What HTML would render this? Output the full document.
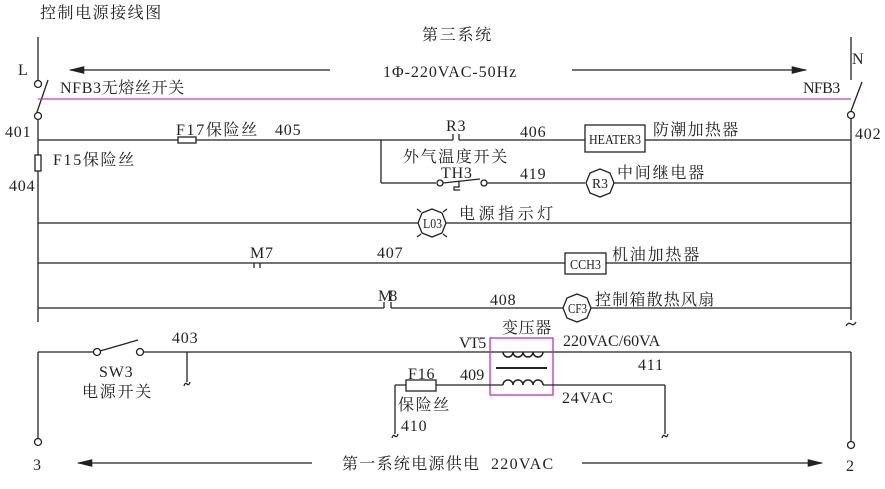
<!DOCTYPE html>
<html><head><meta charset="utf-8"><style>
html,body{margin:0;padding:0;background:#fff}
svg{display:block}
text{font-family:"Liberation Serif","Noto Serif CJK SC","Noto Sans CJK SC",serif;fill:#222;font-size:16px;letter-spacing:0.8px}
.s{font-size:14px;letter-spacing:0}
</style></head><body>
<svg width="885" height="489" viewBox="0 0 885 489" xmlns="http://www.w3.org/2000/svg">
<defs>
<marker id="ah" markerWidth="12" markerHeight="6" refX="11" refY="3" orient="auto"><path d="M0,0 L12,3 L0,6 Z" fill="#222"/></marker>
</defs>
<g stroke="#222" stroke-width="1.3" fill="none">
<line x1="38" y1="37" x2="38" y2="80"/>
<line x1="38" y1="120" x2="38" y2="322"/>
<circle cx="38" cy="84" r="3.5" fill="#fff"/>
<circle cx="38" cy="116" r="3.5" fill="#fff"/>
<line x1="37" y1="112" x2="48" y2="80"/>
<line x1="851" y1="37" x2="851" y2="80"/>
<line x1="851" y1="119" x2="851" y2="320"/>
<circle cx="851" cy="115" r="3.5" fill="#fff"/>
<line x1="851" y1="111" x2="862" y2="82"/>
<path d="M846,326 q2,-4 5,-2 q3,2 5,-2"/>
<line x1="330" y1="70" x2="70" y2="70" marker-end="url(#ah)"/>
<line x1="572" y1="70" x2="806" y2="70" marker-end="url(#ah)"/>
<line x1="38" y1="140" x2="178" y2="140"/>
<rect x="178" y="137" width="18" height="6"/>
<line x1="196" y1="140" x2="453" y2="140"/>
<line x1="453" y1="134" x2="453" y2="140"/>
<line x1="459" y1="134" x2="459" y2="140"/>
<line x1="459" y1="140" x2="585" y2="140"/>
<rect x="585" y="125" width="60" height="27"/>
<line x1="645" y1="140" x2="851" y2="140"/>
<rect x="35" y="155" width="6" height="16" fill="#fff"/>
<line x1="381" y1="140" x2="381" y2="183"/>
<line x1="381" y1="183" x2="436" y2="183"/>
<circle cx="440" cy="183" r="3" fill="#fff"/>
<circle cx="484" cy="183" r="3" fill="#fff"/>
<line x1="443" y1="183" x2="480" y2="179"/>
<path d="M459,181 v6 h-5 v3 h6"/>
<line x1="487" y1="183" x2="585" y2="183"/>
<polygon points="600,169 610,173 614,183 610,193 600,197 590,193 586,183 590,173" fill="#fff"/>
<line x1="614" y1="183" x2="851" y2="183"/>
<line x1="38" y1="223" x2="418" y2="223"/>
<polygon points="432,209 442,213 446,223 442,233 432,237 422,233 418,223 422,213" fill="#fff"/>
<line x1="446" y1="223" x2="851" y2="223"/>
<line x1="417" y1="209" x2="421" y2="212"/><line x1="447" y1="209" x2="443" y2="212"/>
<line x1="417" y1="237" x2="421" y2="234"/><line x1="447" y1="237" x2="443" y2="234"/>
<line x1="38" y1="263" x2="565" y2="263"/>
<path d="M254,263 v5 M260,263 v5"/>
<rect x="565" y="253" width="41" height="21" fill="#fff"/>
<line x1="606" y1="263" x2="851" y2="263"/>
<line x1="38" y1="308" x2="384" y2="308"/>
<path d="M384,302 v6 M391,302 v6"/>
<line x1="391" y1="308" x2="563" y2="308"/>
<polygon points="577,294 587,298 591,308 587,318 577,322 567,318 563,308 567,298" fill="#fff"/>
<line x1="591" y1="308" x2="851" y2="308"/>
<line x1="38" y1="352" x2="38" y2="438"/>
<circle cx="38" cy="442" r="3.5" fill="#fff"/>
<line x1="38" y1="352" x2="93" y2="352"/>
<circle cx="97" cy="352" r="3.5" fill="#fff"/>
<circle cx="140" cy="352" r="3.5" fill="#fff"/>
<line x1="100" y1="351" x2="138" y2="340"/>
<line x1="144" y1="352" x2="851" y2="352"/>
<line x1="187" y1="352" x2="187" y2="382"/>
<path d="M184,386 q1,-4 3,-2 q2,2 3,-2"/>
<line x1="851" y1="352" x2="851" y2="441"/>
<circle cx="851" cy="445" r="3.5" fill="#fff"/>
<rect x="490" y="338" width="63" height="57" stroke="#c030c0"/>
<path d="M503,352 a5,5 0 0 0 10,0 a5,5 0 0 0 10,0 a5,5 0 0 0 10,0 a5,5 0 0 0 10,0" stroke-width="1.5"/>
<line x1="496" y1="368" x2="547" y2="368" stroke-width="2"/>
<path d="M503,385 a5,5 0 0 1 10,0 a5,5 0 0 1 10,0 a5,5 0 0 1 10,0 a5,5 0 0 1 10,0" stroke-width="1.5"/>
<line x1="395" y1="385" x2="503" y2="385"/>
<line x1="543" y1="385" x2="665" y2="385"/>
<rect x="406" y="380" width="30" height="11" fill="#fff"/>
<line x1="395" y1="385" x2="395" y2="434"/>
<path d="M392,438 q1,-4 3,-2 q2,2 3,-2"/>
<line x1="665" y1="385" x2="665" y2="434"/>
<path d="M662,438 q1,-4 3,-2 q2,2 3,-2"/>
<line x1="312" y1="463" x2="78" y2="463" marker-end="url(#ah)"/>
<line x1="582" y1="463" x2="822" y2="463" marker-end="url(#ah)"/>
</g>
<line x1="38" y1="99" x2="851" y2="99" stroke="#c040c0" stroke-width="1.3"/>
<text x="40" y="18" textLength="122">控制电源接线图</text>
<text x="422" y="40" textLength="70">第三系统</text>
<text x="18" y="75" font-size="20">L</text>
<text x="852" y="64" font-size="20">N</text>
<text x="383" y="77" textLength="134">1Φ-220VAC-50Hz</text>
<text x="60" y="93" textLength="125">NFB3无熔丝开关</text>
<text x="803" y="93" textLength="38">NFB3</text>
<text x="5" y="137">401</text>
<text x="855" y="139">402</text>
<text x="53" y="165" textLength="82">F15保险丝</text>
<text x="9" y="191">404</text>
<text x="176" y="135" textLength="82">F17保险丝</text>
<text x="275" y="135">405</text>
<text x="446" y="131">R3</text>
<text x="520" y="137">406</text>
<text x="589" y="144" class="s" textLength="52" lengthAdjust="spacingAndGlyphs">HEATER3</text>
<text x="653" y="135" textLength="86">防潮加热器</text>
<text x="403" y="162" textLength="105">外气温度开关</text>
<text x="441" y="178">TH3</text>
<text x="520" y="179">419</text>
<text x="592" y="188" class="s" textLength="16" lengthAdjust="spacingAndGlyphs">R3</text>
<text x="617" y="178" textLength="88">中间继电器</text>
<text x="423" y="228" class="s" textLength="19" lengthAdjust="spacingAndGlyphs">L03</text>
<text x="459" y="219" textLength="95">电源指示灯</text>
<text x="250" y="258">M7</text>
<text x="377" y="258">407</text>
<text x="570" y="269" class="s" textLength="31" lengthAdjust="spacingAndGlyphs">CCH3</text>
<text x="612" y="260" textLength="88">机油加热器</text>
<text x="378" y="301" textLength="20">M8</text>
<text x="490" y="305">408</text>
<text x="568" y="313" class="s" textLength="19" lengthAdjust="spacingAndGlyphs">CF3</text>
<text x="595" y="305" textLength="120">控制箱散热风扇</text>
<text x="172" y="343">403</text>
<text x="99" y="377">SW3</text>
<text x="82" y="397" textLength="70">电源开关</text>
<text x="502" y="333" textLength="50">变压器</text>
<text x="459" y="348" textLength="28">VT5</text>
<text x="563" y="346" textLength="98">220VAC/60VA</text>
<text x="460" y="380" textLength="25">409</text>
<text x="638" y="370">411</text>
<text x="408" y="379">F16</text>
<text x="562" y="403">24VAC</text>
<text x="398" y="410" textLength="52">保险丝</text>
<text x="401" y="431">410</text>
<text x="33" y="470">3</text>
<text x="846" y="471">2</text>
<text x="342" y="469" textLength="212">第一系统电源供电&#160;&#160;220VAC</text>
</svg>
</body></html>
